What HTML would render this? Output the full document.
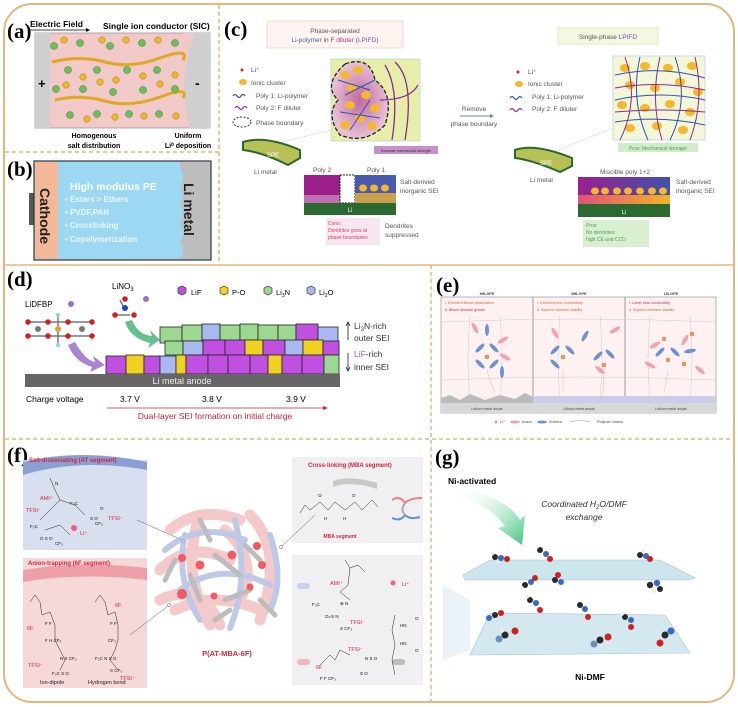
<!DOCTYPE html>
<html><head><meta charset="utf-8"><style>
html,body{margin:0;padding:0;background:#fff;}
svg{display:block;font-family:"Liberation Sans",sans-serif;}
.lb{font-family:"Liberation Serif",serif;font-weight:bold;font-size:21px;}
.sm{font-size:6.5px;fill:#555;}
.rd{fill:#d3263a;font-weight:bold;}
</style></head><body>
<svg width="738" height="707" viewBox="0 0 738 707" xmlns="http://www.w3.org/2000/svg">
<defs>
<linearGradient id="gr1" x1="0" x2="1"><stop offset="0" stop-color="#9b1f8f"/><stop offset="1" stop-color="#4052a8"/></linearGradient>
<linearGradient id="gr2" x1="0" x2="1"><stop offset="0" stop-color="#e0507a"/><stop offset="1" stop-color="#f2b525"/></linearGradient>
<linearGradient id="garr" x1="0" y1="0" x2="1" y2="1"><stop offset="0" stop-color="#fff" stop-opacity="0"/><stop offset="1" stop-color="#3cc27a"/></linearGradient>
<radialGradient id="blob" cx="0.5" cy="0.5" r="0.5"><stop offset="0" stop-color="#c06aa0"/><stop offset="1" stop-color="#e8c0d6"/></radialGradient>
</defs>
<!-- outer frame -->
<rect x="4" y="4" width="730" height="698" rx="28" fill="none" stroke="#e7b67a" stroke-width="2"/>
<g stroke="#e7b67a" stroke-width="1.5" fill="none">
<line x1="219" y1="5" x2="219" y2="265" stroke-dasharray="4,3"/>
<line x1="5" y1="152" x2="219" y2="152" stroke-dasharray="4,3"/>
<line x1="5" y1="265" x2="733" y2="265"/>
<line x1="431" y1="265" x2="431" y2="702" stroke-dasharray="4,3"/>
<line x1="5" y1="439" x2="733" y2="439" stroke-dasharray="4,3"/>
</g>

<!-- (a) -->
<text x="7" y="38" class="lb">(a)</text>
<text x="30" y="27" font-size="8.5" font-weight="bold">Electric Field</text>
<line x1="30" y1="30" x2="86" y2="30" stroke="#000" stroke-width="0.8"/><path d="M86,28 L90,30 L86,32Z"/>
<text x="103" y="29" font-size="8.5" font-weight="bold">Single ion conductor (SIC)</text>
<rect x="35" y="33" width="175" height="95" fill="#f2c9c9" stroke="#999" stroke-width="0.8"/>
<rect x="35" y="33" width="15" height="95" fill="#cfcfcf"/>
<path d="M183,33 L210,33 L210,128 L190,128 Q176,80 195,35 Z" fill="#cfcfcf"/>
<text x="38" y="88" font-size="13" font-weight="bold">+</text>
<text x="195" y="88" font-size="14" font-weight="bold">-</text>
<path d="M52,62 Q80,55 105,62 T160,58 T183,60" stroke="#e0a820" stroke-width="3" fill="none"/>
<path d="M55,100 Q80,94 105,101 T160,97 T183,98" stroke="#e0a820" stroke-width="3" fill="none"/>
<g fill="#6cc05a" stroke="#3a7a30" stroke-width="0.5">
<circle cx="54" cy="46" r="3.5"/><circle cx="80" cy="43" r="3.5"/><circle cx="110" cy="46" r="3.5"/><circle cx="142" cy="43" r="3.5"/><circle cx="175" cy="43" r="3.5"/>
<circle cx="68" cy="70" r="3.5"/><circle cx="97" cy="70" r="3.5"/><circle cx="127" cy="70" r="3.5"/><circle cx="157" cy="70" r="3.5"/>
<circle cx="56" cy="89" r="3.5"/><circle cx="83" cy="89" r="3.5"/><circle cx="113" cy="92" r="3.5"/><circle cx="143" cy="90" r="3.5"/><circle cx="175" cy="89" r="3.5"/>
<circle cx="70" cy="115" r="3.5"/><circle cx="97" cy="114" r="3.5"/><circle cx="129" cy="114" r="3.5"/><circle cx="159" cy="114" r="3.5"/></g>
<g fill="#f0b820" stroke="#a07010" stroke-width="0.5">
<circle cx="64" cy="40" r="3.2"/><circle cx="102" cy="40" r="3.2"/><circle cx="126" cy="40" r="3.2"/><circle cx="158" cy="40" r="3.2"/>
<circle cx="83" cy="77" r="3.2"/><circle cx="100" cy="82" r="3.2"/><circle cx="116" cy="80" r="3.2"/><circle cx="143" cy="76" r="3.2"/><circle cx="160" cy="84" r="3.2"/><circle cx="175" cy="75" r="3.2"/><circle cx="66" cy="85" r="3.2"/>
<circle cx="87" cy="119" r="3.2"/><circle cx="115" cy="117" r="3.2"/><circle cx="144" cy="116" r="3.2"/><circle cx="176" cy="116" r="3.2"/></g>
<text x="94" y="138" font-size="7" font-weight="bold" text-anchor="middle">Homogenous</text>
<text x="94" y="148" font-size="7" font-weight="bold" text-anchor="middle">salt distribution</text>
<text x="188" y="138" font-size="7" font-weight="bold" text-anchor="middle">Uniform</text>
<text x="188" y="148" font-size="7" font-weight="bold" text-anchor="middle">Li⁰ deposition</text>

<!-- (b) -->
<text x="7" y="176" class="lb">(b)</text>
<rect x="29" y="193" width="6" height="32" fill="#555"/><rect x="205" y="190" width="6" height="38" fill="#555"/>
<rect x="34" y="161" width="177" height="99" fill="#9dd8f2" stroke="#333" stroke-width="1.2"/>
<rect x="35" y="162" width="23" height="97" fill="#f2b898"/>
<path d="M180,162 L210,162 L210,259 L180,259 Q186,250 180,242 Q186,232 180,224 Q186,214 180,205 Q186,195 180,187 Q186,176 180,168Z" fill="#bdbdbd"/>
<text transform="translate(40,188) rotate(90)" font-size="14" font-weight="bold" fill="#222">Cathode</text>
<text transform="translate(184,183) rotate(90)" font-size="14" font-weight="bold" fill="#222">Li metal</text>
<text x="70" y="190" font-size="10.5" font-weight="bold" fill="#fff">High modulus PE</text>
<g font-size="8" font-weight="bold" fill="#eaf6fc"><text x="65" y="202">•  Esters &gt; Ethers</text><text x="65" y="215">•  PVDF,PAN</text><text x="65" y="228">•  Crosslinking</text><text x="65" y="242">•  Copolymerization</text></g>

<!-- (c) -->
<text x="224" y="36" class="lb">(c)</text>
<rect x="267" y="21" width="136" height="27" fill="#fdf3ef" stroke="#f0d0c8" stroke-width="0.8"/>
<text x="335" y="33" font-size="6.5" fill="#555" text-anchor="middle">Phase-separated</text>
<text x="335" y="42" font-size="6.5" text-anchor="middle"><tspan fill="#4060b0">Li-polymer</tspan><tspan fill="#555"> in </tspan><tspan fill="#b03090">F diluter</tspan><tspan fill="#555"> (</tspan><tspan fill="#7050c0">LPIFD</tspan><tspan fill="#555">)</tspan></text>
<rect x="558" y="28" width="100" height="16" fill="#f4f8e0" stroke="#d8e8b0" stroke-width="0.8"/>
<text x="608" y="39" font-size="6.5" text-anchor="middle" fill="#555">Single-phase <tspan fill="#7050c0">LPIFD</tspan></text>
<g class="sm">
<circle cx="242" cy="70" r="1.5" fill="#e02020"/><text x="251" y="72">Li⁺</text>
<ellipse cx="243" cy="82" rx="4" ry="3" fill="#f5b82a"/><text x="251" y="85">Ionic cluster</text>
<path d="M233,96 q2,-3 4,0 t4,0 t4,0" stroke="#3050b0" fill="none" stroke-width="1.2"/><text x="256" y="98">Poly 1: Li-polymer</text>
<path d="M235,108 q2,-3 4,0 t4,0 t4,0" stroke="#a02090" fill="none" stroke-width="1.2"/><text x="256" y="110">Poly 2: F diluter</text>
<ellipse cx="242" cy="122" rx="9" ry="5" fill="none" stroke="#333" stroke-dasharray="2,1.5"/><text x="256" y="125">Phase boundary</text>
</g>
<rect x="331" y="59" width="89" height="82" fill="#e6eea8" stroke="#b8d8d8" stroke-width="0.8"/>
<path d="M345,64 Q370,55 375,80 Q395,95 385,125 Q365,145 340,135 Q325,115 338,100 Q322,85 345,64Z" fill="url(#blob)" stroke="#222" stroke-width="1.3" stroke-dasharray="4,2"/>
<g fill="#f5b82a"><ellipse cx="345" cy="75" rx="5" ry="4"/><ellipse cx="358" cy="70" rx="5" ry="4"/><ellipse cx="352" cy="88" rx="5" ry="4"/><ellipse cx="366" cy="95" rx="5" ry="4"/><ellipse cx="350" cy="105" rx="5" ry="4"/><ellipse cx="375" cy="108" rx="5" ry="4"/><ellipse cx="360" cy="118" rx="5" ry="4"/><ellipse cx="345" cy="125" rx="5" ry="4"/><ellipse cx="372" cy="126" rx="5" ry="4"/></g>
<g stroke="#3050b0" stroke-width="1" fill="none"><path d="M338,80 L370,90 M345,95 L375,80 M340,112 L380,118 M350,130 L370,100"/></g>
<g stroke="#8a2a98" stroke-width="1.3" fill="none"><path d="M385,65 Q400,90 392,140 M395,62 Q415,80 405,140 M380,100 Q410,100 418,85"/></g>
<rect x="374" y="146" width="64" height="8" fill="#c790c8"/><text x="406" y="152" font-size="3.8" text-anchor="middle" fill="#333">Increase mechanical strength</text>
<line x1="270" y1="145" x2="331" y2="130" stroke="#aaa" stroke-width="0.5" stroke-dasharray="1.5,1"/>
<path d="M243,142 Q265,135 300,150 L300,158 L288,165 Q262,152 243,150Z" fill="#b8c058" stroke="#2a6a2a" stroke-width="2"/>
<text x="267" y="157" font-size="6" fill="#fff">SPE</text>
<text x="254" y="174" class="sm" font-size="6">Li metal</text>
<text x="313" y="172" class="sm" font-size="6">Poly 2</text><text x="367" y="172" class="sm" font-size="6">Poly 1</text>
<rect x="304" y="175" width="36" height="20" fill="#9a1f88"/><rect x="304" y="195" width="36" height="8" fill="#c070b0"/>
<rect x="340" y="175" width="15" height="28" fill="#fff" stroke="#222" stroke-dasharray="2,1"/>
<rect x="355" y="175" width="41" height="18" fill="#4a5ab0"/><rect x="355" y="193" width="41" height="10" fill="#c9a050"/>
<g fill="#f5b82a"><ellipse cx="363" cy="188" rx="4" ry="3.5"/><ellipse cx="374" cy="188" rx="4" ry="3.5"/><ellipse cx="385" cy="188" rx="4" ry="3.5"/></g>
<rect x="304" y="203" width="92" height="12" fill="#2a6a30"/><text x="350" y="212" font-size="6" fill="#fff" text-anchor="middle">Li</text>
<text x="400" y="184" class="sm" font-size="6">Salt-derived</text><text x="400" y="193" class="sm" font-size="6">inorganic SEI</text>
<rect x="326" y="218" width="54" height="27" fill="#f5e6f0"/>
<g font-size="5" fill="#e04060"><text x="328" y="225">Cons:</text><text x="328" y="232">Dendrites grow at</text><text x="328" y="239">phase boundaries</text></g>
<text x="385" y="228" class="sm" font-size="6">Dendrites</text><text x="385" y="237" class="sm" font-size="6">suppressed</text>
<text x="474" y="111" class="sm" text-anchor="middle">Remove</text>
<line x1="460" y1="116" x2="490" y2="116" stroke="#7080a0"/><path d="M490,114 L494,116 L490,118Z" fill="#7080a0"/>
<text x="474" y="126" class="sm" text-anchor="middle">phase boundary</text>
<g class="sm">
<circle cx="518" cy="72" r="1.5" fill="#e02020"/><text x="528" y="74">Li⁺</text>
<ellipse cx="519" cy="84" rx="4" ry="3" fill="#f5b82a"/><text x="528" y="86">Ionic cluster</text>
<path d="M510,98 q2,-3 4,0 t4,0 t4,0" stroke="#3050b0" fill="none" stroke-width="1.2"/><text x="532" y="99">Poly 1: Li-polymer</text>
<path d="M510,110 q2,-3 4,0 t4,0 t4,0" stroke="#a02090" fill="none" stroke-width="1.2"/><text x="532" y="111">Poly 2: F diluter</text>
</g>
<rect x="613" y="56" width="92" height="84" fill="#f4f6d8" stroke="#b8d8d8" stroke-width="0.8"/>
<g fill="#f5b82a"><ellipse cx="625" cy="68" rx="5" ry="4"/><ellipse cx="645" cy="66" rx="5" ry="4"/><ellipse cx="668" cy="68" rx="5" ry="4"/><ellipse cx="692" cy="66" rx="5" ry="4"/><ellipse cx="630" cy="85" rx="5" ry="4"/><ellipse cx="655" cy="88" rx="5" ry="4"/><ellipse cx="680" cy="82" rx="5" ry="4"/><ellipse cx="698" cy="92" rx="5" ry="4"/><ellipse cx="622" cy="105" rx="5" ry="4"/><ellipse cx="645" cy="108" rx="5" ry="4"/><ellipse cx="670" cy="104" rx="5" ry="4"/><ellipse cx="690" cy="112" rx="5" ry="4"/><ellipse cx="630" cy="128" rx="5" ry="4"/><ellipse cx="657" cy="126" rx="5" ry="4"/><ellipse cx="683" cy="130" rx="5" ry="4"/></g>
<g stroke="#3050b0" stroke-width="1" fill="none"><path d="M615,75 Q660,65 705,78 M615,100 Q660,90 705,100 M615,122 Q660,115 705,125 M640,57 Q630,100 648,140 M675,57 Q690,100 670,140"/></g>
<g stroke="#8a2a98" stroke-width="1" fill="none"><path d="M615,88 Q660,80 705,90 M615,112 Q660,108 705,112 M625,57 Q640,100 620,140 M660,57 Q650,100 662,140 M695,57 Q705,100 690,140"/></g>
<rect x="618" y="143" width="80" height="9" fill="#d0ecc8"/><text x="658" y="150" font-size="5" fill="#50a050" text-anchor="middle">Pros: Mechanical stronger</text>
<line x1="545" y1="155" x2="613" y2="128" stroke="#aaa" stroke-width="0.5" stroke-dasharray="1.5,1"/>
<path d="M515,150 Q535,143 572,158 L572,166 L560,172 Q532,160 515,158Z" fill="#b8c058" stroke="#2a6a2a" stroke-width="2"/>
<text x="540" y="165" font-size="6" fill="#fff">SPE</text>
<text x="530" y="182" class="sm" font-size="6">Li metal</text>
<text x="600" y="174" class="sm" font-size="6">Miscible poly 1+2</text>
<rect x="578" y="177" width="92" height="18" fill="url(#gr1)"/><rect x="578" y="195" width="92" height="9" fill="url(#gr2)"/>
<g fill="#f5b82a"><ellipse cx="595" cy="191" rx="4" ry="3.5"/><ellipse cx="605" cy="191" rx="4" ry="3.5"/><ellipse cx="617" cy="191" rx="4" ry="3.5"/><ellipse cx="628" cy="191" rx="4" ry="3.5"/><ellipse cx="640" cy="191" rx="4" ry="3.5"/><ellipse cx="652" cy="191" rx="4" ry="3.5"/><ellipse cx="663" cy="191" rx="4" ry="3.5"/></g>
<rect x="578" y="204" width="92" height="13" fill="#2a6a30"/><text x="624" y="214" font-size="6" fill="#fff" text-anchor="middle">Li</text>
<text x="676" y="184" class="sm" font-size="6">Salt-derived</text><text x="676" y="193" class="sm" font-size="6">inorganic SEI</text>
<rect x="583" y="220" width="66" height="27" fill="#d8efd0"/>
<g font-size="5" fill="#50a050"><text x="586" y="227">Pros:</text><text x="586" y="234">No dendrites:</text><text x="586" y="241">high CE and CCD</text></g>

<!-- (d) -->
<text x="7" y="286" class="lb">(d)</text>
<text x="112" y="289" font-size="8">LiNO<tspan font-size="6" dy="2">3</tspan></text>
<text x="25" y="307" font-size="8">LiDFBP</text><circle cx="71" cy="304" r="3" fill="#9a70c8"/><circle cx="146" cy="299" r="3" fill="#9a70c8"/>
<g stroke="#777" stroke-width="1.5"><line x1="28" y1="322" x2="92" y2="322"/><line x1="28" y1="336" x2="92" y2="336"/><line x1="58" y1="315" x2="58" y2="345"/><line x1="120" y1="300" x2="125" y2="310"/><line x1="115" y1="315" x2="130" y2="315"/></g>
<g fill="#d02020"><circle cx="28" cy="322" r="2.8"/><circle cx="28" cy="336" r="2.8"/><circle cx="48" cy="322" r="2.8"/><circle cx="48" cy="336" r="2.8"/><circle cx="68" cy="322" r="2.8"/><circle cx="68" cy="336" r="2.8"/><circle cx="92" cy="322" r="2.8"/><circle cx="92" cy="336" r="2.8"/><circle cx="125" cy="299" r="2.8"/><circle cx="115" cy="315" r="2.8"/><circle cx="134" cy="315" r="2.8"/></g>
<g fill="#777"><circle cx="38" cy="329" r="3"/><circle cx="82" cy="329" r="3"/></g><circle cx="58" cy="329" r="3" fill="#e0a030"/><circle cx="58" cy="315" r="2.2" fill="#90d8e0"/><circle cx="58" cy="345" r="2.2" fill="#90d8e0"/><circle cx="125" cy="308" r="3" fill="#2040c0"/>
<path d="M75,342 Q85,360 95,362 L93,356 L105,365 L90,372 L92,367 Q75,362 68,345Z" fill="#9a70c8" opacity="0.85"/>
<path d="M132,320 Q138,335 152,336 L150,330 L160,340 L148,348 L150,343 Q130,338 125,322Z" fill="#40b070" opacity="0.8"/>
<g font-size="7.5"><path d="M178,288 l4,-2 l4,2 l0,5 l-4,2 l-4,-2z" fill="#c050e0" stroke="#222" stroke-width="0.6"/><text x="191" y="295">LiF</text>
<path d="M220,288 l4,-2 l4,2 l0,5 l-4,2 l-4,-2z" fill="#f0d020" stroke="#222" stroke-width="0.6"/><text x="232" y="295">P-O</text>
<path d="M264,288 l4,-2 l4,2 l0,5 l-4,2 l-4,-2z" fill="#9cd890" stroke="#222" stroke-width="0.6"/><text x="276" y="295">Li<tspan font-size="5" dy="2">3</tspan><tspan dy="-2">N</tspan></text>
<path d="M307,288 l4,-2 l4,2 l0,5 l-4,2 l-4,-2z" fill="#a8b8f0" stroke="#222" stroke-width="0.6"/><text x="319" y="295">Li<tspan font-size="5" dy="2">2</tspan><tspan dy="-2">O</tspan></text></g>
<g stroke="#222" stroke-width="0.8">
<rect x="160" y="327" width="22" height="16" fill="#9cd890"/><rect x="182" y="325" width="20" height="16" fill="#9cd890"/><rect x="202" y="324" width="18" height="16" fill="#a8b8f0"/><rect x="220" y="325" width="20" height="16" fill="#9cd890"/><rect x="240" y="324" width="18" height="16" fill="#9cd890"/><rect x="258" y="325" width="20" height="16" fill="#9cd890"/><rect x="278" y="325" width="18" height="16" fill="#9cd890"/><rect x="296" y="324" width="22" height="16" fill="#c050e0"/><rect x="318" y="327" width="20" height="16" fill="#a8b8f0"/>
<rect x="165" y="341" width="18" height="14" fill="#9cd890"/><rect x="183" y="341" width="20" height="14" fill="#a8b8f0"/><rect x="203" y="340" width="22" height="15" fill="#c050e0"/><rect x="225" y="340" width="20" height="15" fill="#c050e0"/><rect x="245" y="340" width="18" height="15" fill="#f0d020"/><rect x="263" y="340" width="22" height="15" fill="#c050e0"/><rect x="285" y="340" width="18" height="15" fill="#a8b8f0"/><rect x="303" y="340" width="20" height="15" fill="#f0d020"/><rect x="323" y="341" width="16" height="14" fill="#c050e0"/>
<rect x="106" y="356" width="20" height="18" fill="#c050e0"/><rect x="126" y="355" width="18" height="19" fill="#f0d020"/><rect x="144" y="356" width="16" height="18" fill="#c050e0"/><rect x="160" y="356" width="16" height="18" fill="#a8b8f0"/><rect x="176" y="355" width="10" height="19" fill="#f0d020"/><rect x="186" y="355" width="22" height="19" fill="#c050e0"/><rect x="208" y="355" width="20" height="19" fill="#c050e0"/><rect x="228" y="355" width="22" height="19" fill="#c050e0"/><rect x="250" y="355" width="18" height="19" fill="#c050e0"/><rect x="268" y="355" width="14" height="19" fill="#f0d020"/><rect x="282" y="355" width="20" height="19" fill="#c050e0"/><rect x="302" y="355" width="22" height="19" fill="#c050e0"/><rect x="324" y="355" width="15" height="19" fill="#9cd890"/>
</g>
<rect x="25" y="374" width="315" height="13" fill="#666"/>
<text x="182" y="384" font-size="9" fill="#eee" text-anchor="middle">Li metal anode</text>
<text x="26" y="402" font-size="8.5">Charge voltage</text>
<text x="120" y="402" font-size="8.5">3.7 V</text><text x="202" y="402" font-size="8.5">3.8 V</text><text x="286" y="402" font-size="8.5">3.9 V</text>
<line x1="107" y1="408" x2="323" y2="408" stroke="#d02030" stroke-width="0.8"/><path d="M323,406 L328,408 L323,410Z" fill="#d02030"/>
<text x="215" y="419" font-size="8.5" fill="#d02030" text-anchor="middle">Dual-layer SEI formation on initial charge</text>
<g font-size="8.5" fill="#333"><text x="354" y="329">Li<tspan font-size="6" dy="2">3</tspan><tspan dy="-2">N-rich</tspan></text><text x="354" y="341">outer SEI</text><text x="354" y="357"><tspan fill="#9060c0">LiF</tspan>-rich</text><text x="354" y="370">inner SEI</text></g>
<path d="M348,340 L348,323 M346,326 L348,322 L350,326 M348,353 L348,370 M346,367 L348,371 L350,367" stroke="#222" stroke-width="0.8" fill="none"/>

<!-- (e) -->
<text x="436" y="292" class="lb">(e)</text>
<g font-size="3.8" font-weight="bold" fill="#444" text-anchor="middle"><text x="487" y="295">HB-GPE</text><text x="579" y="295">MB-GPE</text><text x="671" y="295">LB-GPE</text></g>
<rect x="441" y="297" width="275" height="116" fill="#fdf1f1" stroke="#888" stroke-width="0.6"/>
<line x1="533" y1="297" x2="533" y2="413" stroke="#888" stroke-width="0.8"/><line x1="625" y1="297" x2="625" y2="413" stroke="#888" stroke-width="0.8"/>
<rect x="441" y="403" width="275" height="10" fill="#d8d8d8"/>
<rect x="533" y="396" width="184" height="7" fill="#c8cde8"/>
<path d="M441,403 L441,398 L450,395 L460,400 L470,394 L485,400 L500,395 L515,399 L525,393 L533,397 L533,403Z" fill="#bbb"/>
<g font-size="3.5" fill="#444" text-anchor="middle"><text x="487" y="410">Lithium metal anode</text><text x="579" y="410">Lithium metal anode</text><text x="671" y="410">Lithium metal anode</text></g>
<g font-size="3.6" fill="#e86030"><text x="445" y="304">Ⅰ. Excellent lithium dissociation</text><text x="537" y="304">Ⅰ. Excellent ionic conductivity</text><text x="537" y="311">Ⅱ. Superior interface stability</text><text x="629" y="311">Ⅱ. Superior interface stability</text></g>
<g font-size="3.6" fill="#e02040"><text x="445" y="311">Ⅱ. lithium dendrite growth</text><text x="629" y="304">Ⅰ. Lower ionic conductivity</text></g>
<g stroke="#ccc" stroke-width="0.5" fill="none"><path d="M441,322 Q580,316 716,322 M441,380 Q580,374 716,380 M470,315 Q466,360 470,400 M500,315 Q504,360 500,400 M560,315 Q556,360 560,400 M600,315 Q604,360 600,400 M650,315 Q646,360 650,400 M690,315 Q694,360 690,400"/></g>
<g fill="#f4a0a8"><ellipse cx="475" cy="328" rx="2" ry="6" transform="rotate(-30 475 328)"/><ellipse cx="503" cy="340" rx="2" ry="6" transform="rotate(60 503 340)"/><ellipse cx="505" cy="357" rx="2" ry="6" transform="rotate(-60 505 357)"/><ellipse cx="555" cy="333" rx="2" ry="6" transform="rotate(-30 555 333)"/><ellipse cx="615" cy="330" rx="2" ry="6" transform="rotate(60 615 330)"/><ellipse cx="600" cy="370" rx="2" ry="6" transform="rotate(-50 600 370)"/><ellipse cx="655" cy="345" rx="2" ry="6" transform="rotate(60 655 345)"/><ellipse cx="685" cy="340" rx="2" ry="6" transform="rotate(30 685 340)"/><ellipse cx="700" cy="370" rx="2" ry="6" transform="rotate(-50 700 370)"/><ellipse cx="650" cy="365" rx="2" ry="6" transform="rotate(-60 650 365)"/></g>
<g fill="#7090d0"><ellipse cx="487" cy="330" rx="2" ry="6"/><ellipse cx="502" cy="372" rx="2" ry="6"/><ellipse cx="480" cy="348" rx="2" ry="6" transform="rotate(45 480 348)"/><ellipse cx="494" cy="348" rx="2" ry="6" transform="rotate(-45 494 348)"/><ellipse cx="480" cy="364" rx="2" ry="6" transform="rotate(-45 480 364)"/><ellipse cx="494" cy="364" rx="2" ry="6" transform="rotate(45 494 364)"/><ellipse cx="585" cy="336" rx="2" ry="6" transform="rotate(30 585 336)"/><ellipse cx="555" cy="350" rx="2" ry="6" transform="rotate(45 555 350)"/><ellipse cx="570" cy="350" rx="2" ry="6" transform="rotate(-45 570 350)"/><ellipse cx="555" cy="364" rx="2" ry="6" transform="rotate(-45 555 364)"/><ellipse cx="598" cy="356" rx="2" ry="6" transform="rotate(45 598 356)"/><ellipse cx="610" cy="354" rx="2" ry="6" transform="rotate(-45 610 354)"/><ellipse cx="660" cy="352" rx="2" ry="6" transform="rotate(45 660 352)"/><ellipse cx="675" cy="352" rx="2" ry="6" transform="rotate(-45 675 352)"/><ellipse cx="690" cy="351" rx="2" ry="6" transform="rotate(80 690 351)"/></g>
<g fill="#f0a060" stroke="#c06020" stroke-width="0.4"><circle cx="487" cy="357" r="2"/><circle cx="563" cy="357" r="2"/><circle cx="604" cy="365" r="2"/><circle cx="668" cy="360" r="2"/><circle cx="664" cy="339" r="2"/><circle cx="692" cy="334" r="2"/><circle cx="684" cy="364" r="2"/></g>
<g stroke="#f0a060" stroke-width="0.6" stroke-dasharray="1.5,1" fill="none"><path d="M487,370 Q490,382 495,392 M563,370 L563,392 M604,375 L603,394 M668,372 L664,393"/></g>
<g font-size="3.8" fill="#444"><circle cx="496" cy="422" r="1.5" fill="#f0a060"/><text x="500" y="423">Li⁺</text><ellipse cx="515" cy="422" rx="5" ry="1.5" fill="#f4a0a8"/><text x="522" y="423">Anion</text><ellipse cx="542" cy="422" rx="5" ry="1.5" fill="#7090d0"/><text x="549" y="423">Solvent</text><path d="M570,422 q10,-3 20,0" stroke="#999" fill="none" stroke-width="0.5"/><text x="597" y="423">Polymer chains</text></g>

<!-- (f) -->
<text x="7" y="462" class="lb">(f)</text>
<rect x="23" y="460" width="124" height="90" fill="#d8e0f0"/>
<path d="M23,462 Q80,448 147,462 L147,470 Q80,458 23,475Z" fill="#8a9fd4"/>
<text x="29" y="462" font-size="6" class="rd">Salt-dissociating (AT segment)</text>
<rect x="23" y="558" width="124" height="130" fill="#f6d8d8"/>
<path d="M23,570 Q80,560 147,568 L147,580 Q80,572 23,582Z" fill="#eea0a8"/>
<text x="28" y="565" font-size="6" class="rd">Anion-trapping (6F segment)</text>
<rect x="292" y="457" width="131" height="86" fill="#f0f0f2"/>
<text x="308" y="467" font-size="6" class="rd">Cross-linking (MBA segment)</text>
<rect x="292" y="555" width="131" height="130" fill="#f0f0f2"/>
<g font-size="4.5" fill="#111"><text x="30" y="528">F₃C</text><text x="70" y="505">F₃C</text><text x="40" y="540">O  S  O</text><text x="90" y="520">S  O</text><text x="55" y="485">N</text><text x="100" y="510">O</text><text x="95" y="525">CF₃</text><text x="55" y="545">CF₃</text></g>
<g stroke="#222" stroke-width="0.5" fill="none"><path d="M40,520 L50,510 L60,500 L55,490 L50,478 M60,500 L75,505 L85,515 M45,530 L60,525 L70,535"/></g>
<g font-size="5.5" fill="#d3263a"><text x="40" y="500">AMI⁺</text><text x="26" y="512">TFSI⁻</text><text x="108" y="520">TFSI⁻</text><text x="80" y="535">Li⁺</text></g>
<circle cx="74" cy="528" r="3" fill="#f06070"/>
<g stroke="#222" stroke-width="0.5" fill="none"><path d="M30,602 L35,595 L40,602 L42,615 L50,612 L55,625 L55,640 L60,650 L65,660 L60,670 M95,602 L100,595 L105,602 L108,615 L115,612 L118,625 L118,640 L115,650 L110,660 L118,670"/></g>
<g font-size="4.5" fill="#111"><text x="45" y="625">F  F</text><text x="45" y="642">F  H  CF₃</text><text x="60" y="660">N   S  CF₃</text><text x="52" y="675">F₃C  S  O</text><text x="110" y="625">F  F</text><text x="108" y="642">CF₃</text><text x="95" y="660">F₃C  N  S  O</text><text x="110" y="672">S  CF₃</text></g>
<g font-size="5.5" fill="#d3263a"><text x="27" y="630">6F</text><text x="115" y="607">6F</text><text x="28" y="667">TFSI⁻</text><text x="120" y="680">TFSI⁻</text></g>
<text x="40" y="684" font-size="5.5" fill="#222">Ion-dipole</text><text x="88" y="684" font-size="5.5" fill="#222">Hydrogen bond</text>
<line x1="137" y1="520" x2="182" y2="540" stroke="#555" stroke-width="0.5"/><circle cx="183" cy="541" r="1.5" fill="#fff" stroke="#555" stroke-width="0.5"/>
<line x1="130" y1="635" x2="168" y2="606" stroke="#555" stroke-width="0.5"/><circle cx="169" cy="605" r="1.5" fill="#fff" stroke="#555" stroke-width="0.5"/>
<line x1="315" y1="515" x2="282" y2="546" stroke="#555" stroke-width="0.5"/><circle cx="281" cy="547" r="1.5" fill="#fff" stroke="#555" stroke-width="0.5"/>
<g fill="none" stroke-linecap="round" opacity="0.75">
<g stroke="#f0b8b8" stroke-width="11"><path d="M170,530 Q200,505 240,520 M160,570 Q190,540 230,560 M175,610 Q215,590 260,610 M200,515 Q180,570 210,625 M250,515 Q285,550 260,620 M225,530 Q260,560 240,600 M160,600 Q200,580 220,625"/></g>
<g stroke="#a8b8e0" stroke-width="6"><path d="M165,550 Q200,520 245,540 M180,590 Q220,560 270,585 M235,520 Q250,580 230,628 M270,535 Q285,580 270,610 M185,535 Q175,580 200,620"/></g>
<g stroke="#a8a8a8" stroke-width="5"><path d="M200,520 L210,540 M215,555 L240,575 M190,575 L200,600 M245,545 L260,560 M225,600 L250,590 M260,600 L275,615 M175,560 L165,580 M215,620 L230,610"/></g>
</g>
<g fill="#f05a60"><circle cx="182" cy="558" r="4"/><circle cx="200" cy="565" r="4.5"/><circle cx="232" cy="555" r="4.5"/><circle cx="257" cy="546" r="4"/><circle cx="262" cy="565" r="4"/><circle cx="182" cy="594" r="5"/><circle cx="214" cy="596" r="3.5"/><circle cx="250" cy="587" r="3.5"/></g>
<text x="227" y="656" font-size="7.5" class="rd" text-anchor="middle">P(AT-MBA-6F)</text>
<path d="M333,481 Q350,475 377,483 L377,489 Q350,480 333,487Z" fill="#c8c8c8"/>
<g stroke="#222" stroke-width="0.5" fill="none"><path d="M300,513 L305,505 L310,510 L320,502 L328,510 L335,502 L345,510 L355,502 L362,510 L372,500 L378,507"/></g>
<g font-size="4.5" fill="#111"><text x="318" y="497">O</text><text x="352" y="497">O</text><text x="324" y="520">H</text><text x="343" y="520">H</text></g>
<text x="340" y="538" font-size="5" fill="#d3263a" text-anchor="middle" font-weight="bold">MBA segment</text>
<path d="M392,500 Q400,495 405,503 Q410,498 422,498" stroke="#f08080" stroke-width="2" fill="none"/><path d="M392,518 Q400,522 405,515 Q410,520 420,517" stroke="#6890d0" stroke-width="2" fill="none"/><path d="M405,503 Q400,510 405,515" stroke="#aaa" stroke-width="2" fill="none"/>
<rect x="297" y="583" width="13" height="6" rx="3" fill="#c8d0f0"/><rect x="297" y="659" width="13" height="6" rx="3" fill="#f0b8b8"/><rect x="392" y="659" width="13" height="6" rx="3" fill="#bbb"/>
<g stroke="#222" stroke-width="0.5" fill="none"><path d="M345,560 L350,568 L358,565 L365,572 M350,568 L348,585 L340,592 L350,600 M395,615 L392,630 L395,645 L392,660 L395,675 M320,665 L330,655 L335,660 L340,650 L350,655"/></g>
<g font-size="4.5" fill="#111"><text x="312" y="606">F₃C</text><text x="325" y="618">O=S  N</text><text x="340" y="630">S  CF₃</text><text x="340" y="605">⊕ N</text><text x="400" y="627">HN</text><text x="400" y="645">HN</text><text x="415" y="620">O</text><text x="415" y="652">O</text><text x="320" y="680">F   F  CF₃</text><text x="365" y="660">N  S O</text><text x="360" y="675">S  O</text></g>
<g font-size="5.5" fill="#d3263a"><text x="330" y="585">AMI⁺</text><text x="350" y="624">TFSI⁻</text><text x="348" y="651">TFSI⁻</text><text x="316" y="669">6F</text><text x="402" y="586">Li⁺</text></g>
<circle cx="393" cy="583" r="2.5" fill="#f06070"/>

<!-- (g) -->
<text x="435" y="464" class="lb">(g)</text>
<text x="448" y="484" font-size="8.5" font-weight="bold">Ni-activated</text>
<text x="584" y="507" font-size="8.5" font-style="italic" fill="#333" text-anchor="middle">Coordinated H<tspan font-size="6" dy="2">2</tspan><tspan dy="-2">O/DMF</tspan></text>
<text x="584" y="520" font-size="8.5" font-style="italic" fill="#333" text-anchor="middle">exchange</text>
<path d="M455,488 Q505,495 520,520 L525,515 L522,545 L498,528 L505,526 Q490,505 455,495Z" fill="url(#garr)"/>
<path d="M443,585 L470,600 L470,650 L443,660Z" fill="#eaf4f8"/>
<path d="M463,575 L490,560 L660,560 L695,578 L690,580 L465,580Z" fill="#c8e4ec" stroke="#90c0d0" stroke-width="0.6" opacity="0.9"/>
<path d="M470,655 L490,613 L665,615 L690,653 Z" fill="#cfe6ee" stroke="#90c0d0" stroke-width="0.6" opacity="0.9"/>
<g>
<g transform="translate(495,557)"><circle cx="0" cy="0" r="3" fill="#2a2a2a"/><circle cx="6" cy="1" r="3" fill="#3a6ac0"/><circle cx="12" cy="2" r="3" fill="#d02020"/><circle cx="-3" cy="-3" r="1.8" fill="#eee"/><circle cx="3" cy="5" r="1.8" fill="#eee"/></g>
<g transform="translate(540,550)"><circle cx="0" cy="0" r="3" fill="#2a2a2a"/><circle cx="6" cy="4" r="3" fill="#3a6ac0"/><circle cx="10" cy="9" r="3" fill="#d02020"/><circle cx="-3" cy="-3" r="1.8" fill="#eee"/></g>
<g transform="translate(640,555)"><circle cx="0" cy="0" r="3" fill="#2a2a2a"/><circle cx="6" cy="1" r="3" fill="#3a6ac0"/><circle cx="3" cy="-4" r="1.8" fill="#eee"/><circle cx="10" cy="4" r="3" fill="#d02020"/></g>
<g transform="translate(525,585)"><circle cx="0" cy="0" r="3" fill="#2a2a2a"/><circle cx="6" cy="-3" r="3" fill="#3a6ac0"/><circle cx="10" cy="-7" r="3" fill="#d02020"/><circle cx="-3" cy="3" r="1.8" fill="#eee"/></g>
<g transform="translate(555,580)"><circle cx="0" cy="0" r="3" fill="#2a2a2a"/><circle cx="6" cy="2" r="3" fill="#3a6ac0"/><circle cx="3" cy="-5" r="3" fill="#d02020"/></g>
<g transform="translate(650,585)"><circle cx="0" cy="0" r="3.2" fill="#2a2a2a"/><circle cx="7" cy="-2" r="3.2" fill="#3a6ac0"/><circle cx="4" cy="6" r="2" fill="#eee"/><circle cx="10" cy="4" r="3" fill="#2a2a2a"/></g>
<g transform="translate(530,600)"><circle cx="0" cy="0" r="3" fill="#2a2a2a"/><circle cx="6" cy="3" r="3" fill="#3a6ac0"/><circle cx="10" cy="10" r="3" fill="#d02020"/><circle cx="-3" cy="-3" r="1.8" fill="#eee"/></g>
<g transform="translate(580,605)"><circle cx="0" cy="0" r="3" fill="#2a2a2a"/><circle cx="5" cy="4" r="3" fill="#3a6ac0"/><circle cx="8" cy="12" r="3" fill="#d02020"/></g>
<g transform="translate(625,617)"><circle cx="0" cy="0" r="3" fill="#2a2a2a"/><circle cx="6" cy="3" r="3" fill="#3a6ac0"/><circle cx="6" cy="10" r="3" fill="#d02020"/><circle cx="-3" cy="-3" r="1.8" fill="#eee"/></g>
<g transform="translate(495,615)"><circle cx="0" cy="0" r="3" fill="#2a2a2a"/><circle cx="-6" cy="3" r="3" fill="#3a6ac0"/><circle cx="6" cy="-2" r="3" fill="#d02020"/></g>
<g transform="translate(505,635)"><circle cx="0" cy="0" r="3.5" fill="#2a2a2a"/><circle cx="-6" cy="4" r="3.5" fill="#6a90c0"/><circle cx="10" cy="-4" r="3.5" fill="#d02020"/><circle cx="-3" cy="-4" r="1.8" fill="#eee"/></g>
<g transform="translate(600,640)"><circle cx="0" cy="0" r="3.5" fill="#2a2a2a"/><circle cx="-6" cy="4" r="3.5" fill="#6a90c0"/><circle cx="8" cy="-3" r="3.5" fill="#d02020"/></g>
<g transform="translate(665,635)"><circle cx="0" cy="0" r="3.5" fill="#2a2a2a"/><circle cx="6" cy="-4" r="3.5" fill="#3a6ac0"/><circle cx="-5" cy="8" r="3.5" fill="#d02020"/><circle cx="10" cy="-8" r="1.8" fill="#eee"/></g>
</g>
<text x="590" y="680" font-size="8.5" font-weight="bold" text-anchor="middle">Ni-DMF</text>
</svg>
</body></html>
